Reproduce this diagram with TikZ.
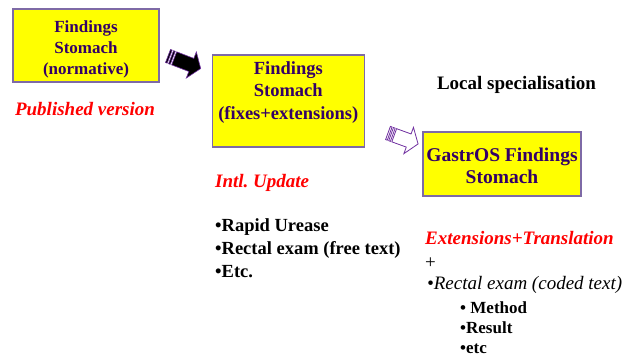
\documentclass[tikz,border=0pt]{standalone}
\usepackage{fontspec}
\setmainfont{Liberation Serif}
\definecolor{boxfill}{HTML}{FFFF00}
\definecolor{boxline}{HTML}{7E6AA6}
\definecolor{boxtext}{HTML}{330066}
\definecolor{arrline}{HTML}{7030A0}
\definecolor{redtxt}{HTML}{FF0000}
\begin{document}
\begin{tikzpicture}[x=1pt,y=-1pt,
  box/.style={draw=boxline, line width=1.2pt, fill=boxfill, inner sep=0pt},
  boxtxt/.style={text=boxtext, align=center, inner sep=0pt},
  redlbl/.style={text=redtxt, inner sep=0pt, font=\bfseries\itshape\fontsize{19}{23}\selectfont},
  plaintxt/.style={inner sep=0pt, font=\bfseries\fontsize{18.5}{23}\selectfont},
  subtxt/.style={inner sep=0pt, font=\bfseries\fontsize{17}{20}\selectfont},
  solidarrow/.style={fill=black, draw=arrline, line width=0.6pt, line join=miter},
  hollowarrow/.style={fill=white, draw=arrline, line width=0.8pt, line join=miter}
]
\useasboundingbox (0,0) rectangle (634,358);

% boxes
\node[box, minimum width=146pt, minimum height=73pt] (b1) at (86,45.5) {};
\node[boxtxt, font=\bfseries\fontsize{17}{21}\selectfont] (b1t) at ([yshift=-3.5pt]b1.center) {Findings\\Stomach\\(normative)};

\node[box, minimum width=152pt, minimum height=92pt] (b2) at (288.3,101) {};
\node[boxtxt, font=\bfseries\fontsize{18.5}{22.5}\selectfont] (b2t) at ([yshift=8.5pt]b2.center) {Findings\\Stomach\\(fixes+extensions)};

\node[box, minimum width=158pt, minimum height=64pt] (b3) at (502,164) {};
\node[boxtxt, font=\bfseries\fontsize{19.5}{22}\selectfont] (b3t) at ([yshift=-2pt]b3.center) {GastrOS Findings\\Stomach};

% block arrows
\coordinate (a1s) at (168,56);
\begin{scope}[shift={(a1s)}, rotate=-21]
  \filldraw[solidarrow] (0,-7) rectangle (1.8,7);
  \filldraw[solidarrow] (3.3,-7) rectangle (5.1,7);
  \filldraw[solidarrow] (6.6,-7) -- (25,-7) -- (25,-14) -- (35,0) -- (25,14) -- (25,7) -- (6.6,7) -- cycle;
\end{scope}

\coordinate (a2s) at (388,133);
\begin{scope}[shift={(a2s)}, rotate=-20]
  \filldraw[hollowarrow] (0,-7) rectangle (1.8,7);
  \filldraw[hollowarrow] (3.3,-7) rectangle (5.1,7);
  \filldraw[hollowarrow] (6.6,-7) -- (22,-7) -- (22,-14) -- (32,0) -- (22,14) -- (22,7) -- (6.6,7) -- cycle;
\end{scope}

% labels
\node[redlbl, anchor=base] (pub) at (85,116) {Published version};
\node[plaintxt, font=\bfseries\fontsize{19}{23}\selectfont, anchor=base] (loc) at (516.5,90) {Local specialisation};

\node[redlbl, anchor=base west] (intl) at (215,187) {Intl.\ Update};
\node[plaintxt, anchor=base west] (l1) at (215,231) {•Rapid Urease};
\node[plaintxt, anchor=base west] (l2) at (215,254) {•Rectal exam (free text)};
\node[plaintxt, anchor=base west] (l3) at (215,277) {•Etc.};

\node[redlbl, anchor=base west] (ext) at (425,244) {Extensions+Translation};
\node[inner sep=0pt, font=\fontsize{19}{23}\selectfont, anchor=base west] (plus) at (425,268) {+};
\node[inner sep=0pt, font=\itshape\fontsize{19}{23}\selectfont, anchor=base west] (rc) at (427,289) {•Rectal exam (coded text)};
\node[subtxt, anchor=base west] (m1) at (460,313) {• Method};
\node[subtxt, anchor=base west] (m2) at (460,333) {•Result};
\node[subtxt, anchor=base west] (m3) at (460,353) {•etc};
\end{tikzpicture}
\end{document}
